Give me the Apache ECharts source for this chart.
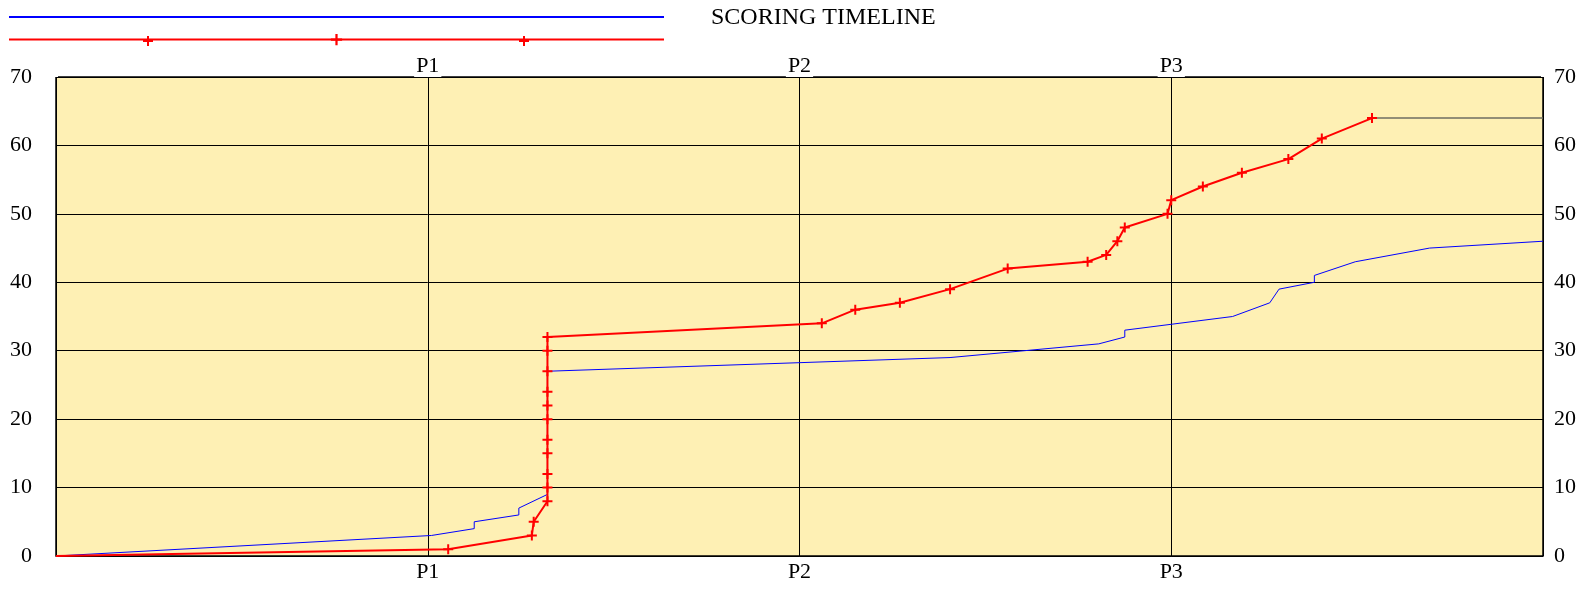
<!DOCTYPE html>
<html>
<head>
<meta charset="utf-8">
<script src="https://cdn.jsdelivr.net/npm/echarts@6/dist/echarts.min.js"></script>
<style>
  html, body { margin: 0; padding: 0; background: #fff; }
  #chart { width: 1583px; height: 592px; }
</style>
</head>
<body>
<div id="chart"></div>
<script>
// ---- Data (time in minutes; 20 min per period) ----
const titleText = 'SCORING TIMELINE';
const periodTicks = [20, 40, 60];
const periodLabels = ['P1', 'P2', 'P3'];

const blueTimes  = [0, 20.2, 22.5, 22.5, 24.9, 24.9, 26.44, 26.44, 48.1, 56.1, 57.5, 57.5, 63.3, 65.3, 65.8, 67.7, 67.7, 69.9, 73.9, 80];
const blueScores = [0, 3,    4,    5,    6,    7,    9,     27,    29,   31,   32,   33,   35,   37,   39,   40,   41,   43,   45,   46];

const redTimes  = [0, 21.1, 25.6, 25.7, 26.44, 26.44, 26.44, 26.44, 26.44, 26.44, 26.44, 26.44, 26.44, 26.44, 26.44, 41.2, 43.0, 45.4, 48.1, 51.2, 55.5, 56.5, 57.1, 57.5, 59.8, 60.0, 61.7, 63.8, 66.3, 68.1, 70.8];
const redScores = [0, 1,    3,    5,    8,     10,    12,    15,    17,    20,    22,    24,    27,    30,    32,    34,   36,   37,   39,   42,   43,   44,   46,   48,   50,   52,   54,   56,   58,   61,   64];

const tailTimes  = [70.8, 80];
const tailScores = [64, 64];

// ---- Chart ----
const FONT = "'Liberation Serif', 'DejaVu Serif', serif";
const TICK_FS = 22;
const PLUS = 'path://M4,0h2v4h4v2h-4v4h-2v-4h-4v-2h4z';

function pairs(ts, vs) { return ts.map((t, i) => [t, vs[i]]); }
function periodLabel(v) {
  const i = periodTicks.indexOf(v);
  return i >= 0 ? periodLabels[i] : '';
}

const redData = pairs(redTimes, redScores).map((p, i) =>
  i === 0 ? { value: p, symbol: 'none' } : p);

function legendPlus(cx, cy) {
  return [
    { type: 'rect', shape: { x: cx - 1, y: cy - 5, width: 2, height: 10 }, style: { fill: '#ff0000' }, z: 100 },
    { type: 'rect', shape: { x: cx - 5, y: cy - 1, width: 10, height: 2 }, style: { fill: '#ff0000' }, z: 100 }
  ];
}

const chart = echarts.init(document.getElementById('chart'), null, { renderer: 'canvas' });

const xBase = {
  type: 'value', min: 0, max: 80, interval: 20,
  axisLine: { show: false },
  axisTick: { show: false },
  splitLine: { show: true, lineStyle: { color: '#000', width: 1 } }
};
const yBase = {
  type: 'value', min: 0, max: 70, interval: 10,
  axisLine: { show: false },
  axisTick: { show: false },
  splitLine: { show: true, lineStyle: { color: '#000', width: 1 } }
};

chart.setOption({
  animation: false,
  backgroundColor: '#ffffff',
  title: {
    text: titleText,
    left: 711, top: 6, padding: 0,
    textStyle: { fontFamily: FONT, fontSize: 24, fontWeight: 'normal', color: '#000' }
  },
  legend: {
    orient: 'vertical',
    left: 8, top: 10, padding: 0,
    itemWidth: 655, itemHeight: 14, itemGap: 10,
    data: [
      { name: 'Away', itemStyle: { opacity: 0 } },
      { name: 'Home' }
    ],
    formatter: () => '',
    selectedMode: false,
    textStyle: { fontSize: 1 }
  },
  grid: {
    left: 56, right: 40, top: 77, bottom: 36,
    show: true, backgroundColor: '#FEF0B4',
    borderColor: '#000', borderWidth: 1.5
  },
  xAxis: [
    Object.assign({}, xBase, {
      position: 'bottom',
      axisLabel: {
        formatter: periodLabel, margin: 5,
        fontFamily: FONT, fontSize: TICK_FS, color: '#000'
      }
    }),
    Object.assign({}, xBase, {
      position: 'top',
      splitLine: { show: false },
      axisLabel: {
        formatter: periodLabel, margin: 0,
        fontFamily: FONT, fontSize: TICK_FS, color: '#000',
        backgroundColor: '#fff', padding: [1, 2, 0, 2]
      }
    })
  ],
  yAxis: [
    Object.assign({}, yBase, {
      position: 'left',
      axisLabel: { margin: 24, fontFamily: FONT, fontSize: TICK_FS, color: '#000' }
    }),
    Object.assign({}, yBase, {
      position: 'right',
      splitLine: { show: false },
      axisLabel: { margin: 11, fontFamily: FONT, fontSize: TICK_FS, color: '#000' }
    })
  ],
  series: [
    {
      name: 'Away', type: 'line',
      data: pairs(blueTimes, blueScores),
      showSymbol: false, symbol: 'none',
      lineStyle: { color: '#0000ff', width: 1 },
      itemStyle: { color: '#0000ff' },
      z: 3
    },
    {
      name: 'Home', type: 'line',
      data: redData,
      symbol: PLUS, symbolSize: 10, showAllSymbol: true,
      lineStyle: { color: '#ff0000', width: 2 },
      itemStyle: { color: '#ff0000' },
      z: 4
    },
    {
      name: 'tail', type: 'line',
      data: pairs(tailTimes, tailScores),
      symbol: 'none',
      lineStyle: { color: '#6e6e62', width: 1.5 },
      z: 2
    }
  ],
  graphic: legendPlus(148, 41).concat(legendPlus(524, 41))
});
</script>
</body>
</html>
